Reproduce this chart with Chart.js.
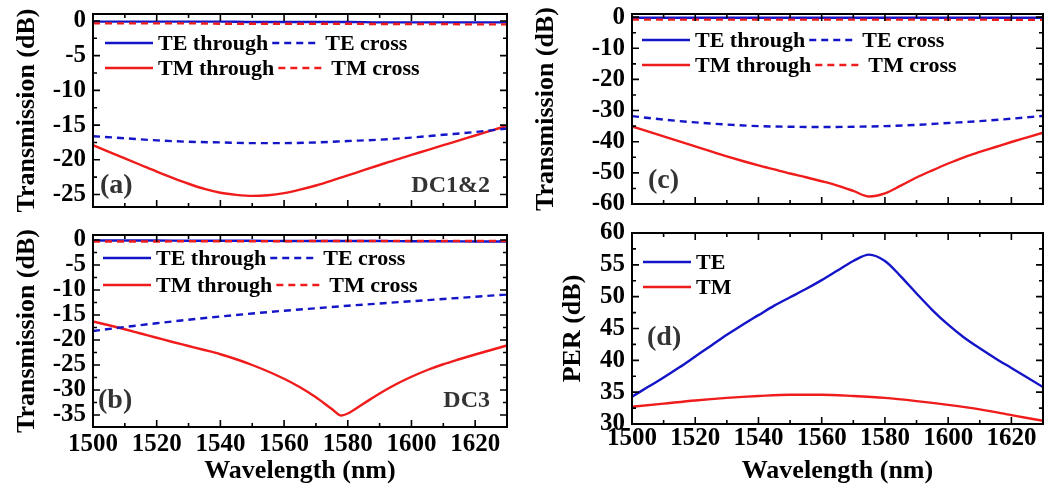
<!DOCTYPE html>
<html>
<head>
<meta charset="utf-8">
<script src="https://cdn.jsdelivr.net/npm/chart.js@4.4.1/dist/chart.umd.min.js"></script>
<style>
  body { margin: 0; background: #fff; }
  #wrap { position: relative; width: 1053px; height: 491px; overflow: hidden; background: #fff; }
  canvas { position: absolute; }
</style>
</head>
<body>
<div id="wrap">
  <canvas id="chartA" width="520" height="215" style="left:0;top:0"></canvas>
  <canvas id="chartB" width="520" height="276" style="left:0;top:215px"></canvas>
  <canvas id="chartC" width="523" height="215" style="left:530px;top:0"></canvas>
  <canvas id="chartD" width="523" height="276" style="left:530px;top:215px"></canvas>
</div>
<script>
// wavelength grids (nm)
const wl10 = [1500, 1510, 1520, 1530, 1540, 1550, 1560, 1570, 1580, 1590, 1600, 1610, 1620, 1630];
const wl5 = [1500, 1505, 1510, 1515, 1520, 1525, 1530, 1535, 1540, 1545, 1550, 1555, 1560, 1565,
  1570, 1575, 1580, 1585, 1590, 1595, 1600, 1605, 1610, 1615, 1620, 1625, 1630];
const wlDipB = [1500, 1505, 1510, 1515, 1520, 1525, 1530, 1535, 1540, 1545, 1550, 1555, 1560, 1565,
  1570, 1575, 1578, 1580, 1585, 1590, 1595, 1600, 1605, 1610, 1615, 1620, 1625, 1630];

// (a) DC1&2
const teThroughA = [-0.1, -0.1, -0.1, -0.1, -0.1, -0.15, -0.15, -0.15, -0.15, -0.2, -0.2, -0.2, -0.2, -0.2];
const teCrossA = [-16.6, -16.9, -17.2, -17.4, -17.5, -17.6, -17.6, -17.5, -17.3, -17.1, -16.8, -16.4, -16.0, -15.5];
const tmThroughA = [-17.9, -18.85, -19.8, -20.75, -21.7, -22.6, -23.45, -24.2, -24.75, -25.05, -25.2, -25.1, -24.8, -24.3,
  -23.7, -23.0, -22.25, -21.5, -20.75, -20.0, -19.3, -18.6, -17.9, -17.2, -16.5, -15.8, -15.1];
const tmCrossA = [-0.35, -0.35, -0.35, -0.35, -0.4, -0.4, -0.4, -0.4, -0.4, -0.45, -0.45, -0.45, -0.5, -0.5];

// (b) DC3
const teThroughB = [-0.1, -0.1, -0.1, -0.15, -0.15, -0.15, -0.2, -0.2, -0.2, -0.2, -0.25, -0.25, -0.3, -0.3];
const teCrossB = [-18.2, -17.4, -16.65, -15.95, -15.3, -14.7, -14.15, -13.65, -13.15, -12.7, -12.25, -11.8, -11.35, -10.9];
const tmThroughB = [-16.3, -17.05, -17.85, -18.7, -19.55, -20.4, -21.2, -22.0, -22.85, -23.85, -25.0, -26.3, -27.75, -29.45,
  -31.45, -33.8, -35.1, -34.7, -32.7, -30.7, -28.9, -27.35, -26.0, -24.85, -23.85, -22.9, -22.0, -21.1];
const tmCrossB = [-0.3, -0.3, -0.3, -0.25, -0.25, -0.25, -0.25, -0.2, -0.2, -0.2, -0.2, -0.2, -0.2, -0.2];

// (c) combined
const teThroughC = [-0.2, -0.2, -0.2, -0.2, -0.2, -0.2, -0.2, -0.2, -0.2, -0.2, -0.2, -0.2, -0.2, -0.2];
const teCrossC = [-31.8, -32.9, -33.8, -34.5, -35.0, -35.2, -35.3, -35.2, -35.0, -34.6, -34.0, -33.4, -32.6, -31.7];
const tmThroughC = [-35.1, -36.7, -38.3, -39.9, -41.5, -43.1, -44.7, -46.2, -47.6, -48.9, -50.2, -51.4, -52.7, -54.1,
  -55.8, -57.6, -56.6, -54.1, -51.5, -49.2, -47.0, -45.0, -43.3, -41.7, -40.1, -38.6, -37.1];
const tmCrossC = [-0.8, -0.8, -0.8, -0.8, -0.8, -0.8, -0.8, -0.8, -0.8, -0.8, -0.8, -0.8, -0.9, -0.9];

// (d) PER
const perTE = [34.3, 35.8, 37.3, 38.9, 40.6, 42.3, 44.0, 45.6, 47.1, 48.6, 49.9, 51.2, 52.6, 54.1,
  55.6, 56.6, 55.6, 53.2, 50.5, 47.9, 45.6, 43.6, 41.9, 40.3, 38.8, 37.3, 35.8];
const perTM = [32.7, 33.2, 33.7, 34.1, 34.4, 34.6, 34.6, 34.4, 34.1, 33.6, 33.0, 32.3, 31.4, 30.5];

// tick labels
const ticksX = [1500, 1520, 1540, 1560, 1580, 1600, 1620];
const ticksYA = [0, -5, -10, -15, -20, -25];
const ticksYB = [0, -5, -10, -15, -20, -25, -30, -35];
const ticksYC = [0, -10, -20, -30, -40, -50, -60];
const ticksYD = [30, 35, 40, 45, 50, 55, 60];

const blue = "#1414c8";
const red = "#f01c1c";
const serif = "'Liberation Serif', 'Times New Roman', serif";
Chart.defaults.font.family = serif;
Chart.defaults.font.weight = "bold";
Chart.defaults.color = "#000";

function zip(xs, ys) {
  return xs.map((x, i) => ({ x: x, y: ys[i] }));
}

function line(label, xs, ys, color, dashed, order) {
  return {
    label: label,
    data: zip(xs, ys),
    borderColor: color,
    backgroundColor: color,
    borderWidth: 2.4,
    borderDash: dashed ? [7, 5] : [],
    pointRadius: 0,
    cubicInterpolationMode: "monotone",
    fill: false,
    order: order
  };
}

function bold(size) {
  return { family: serif, size: size, weight: "bold" };
}

// frame, inward ticks, legend and panel notes
const framePlugin = {
  id: "frame",
  afterDatasetsDraw(chart, args, opts) {
    const { ctx, chartArea: a, scales } = chart;
    ctx.save();
    ctx.strokeStyle = "#000";
    ctx.lineWidth = 2;
    ctx.strokeRect(a.left, a.top, a.right - a.left, a.bottom - a.top);

    const marks = (scale, step) => {
      const out = [];
      scale.ticks.forEach(t => {
        out.push({ v: t.value, len: 7 });
        [t.value + step / 2, t.value - step / 2].forEach(m => {
          if (m > scale.min && m < scale.max && !out.some(o => Math.abs(o.v - m) < 1e-6)) out.push({ v: m, len: 4 });
        });
      });
      return out;
    };
    ctx.lineWidth = 1.6;
    ctx.beginPath();
    marks(scales.x, 20).forEach(m => {
      const px = scales.x.getPixelForValue(m.v);
      ctx.moveTo(px, a.bottom); ctx.lineTo(px, a.bottom - m.len);
      ctx.moveTo(px, a.top); ctx.lineTo(px, a.top + m.len);
    });
    marks(scales.y, opts.yStep).forEach(m => {
      const py = scales.y.getPixelForValue(m.v);
      ctx.moveTo(a.left, py); ctx.lineTo(a.left + m.len, py);
      ctx.moveTo(a.right, py); ctx.lineTo(a.right - m.len, py);
    });
    ctx.stroke();

    // legend
    ctx.font = "bold 22px " + serif;
    ctx.textBaseline = "middle";
    ctx.textAlign = "left";
    let y = opts.legendY;
    opts.rows.forEach(row => {
      let x = opts.legendX;
      row.forEach(i => {
        const ds = chart.data.datasets[i];
        ctx.strokeStyle = ds.borderColor;
        ctx.lineWidth = ds.borderWidth;
        ctx.setLineDash(ds.borderDash);
        ctx.beginPath();
        ctx.moveTo(x, y); ctx.lineTo(x + 48, y);
        ctx.stroke();
        ctx.setLineDash([]);
        x += 53;
        ctx.fillStyle = "#000";
        ctx.fillText(ds.label, x, y + 1);
        x += ctx.measureText(ds.label).width + 4;
      });
      y += opts.rowGap;
    });

    // panel tag and note
    ctx.fillStyle = "#333";
    ctx.font = "bold 28px " + serif;
    ctx.fillText(opts.tag, opts.tagX, opts.tagY);
    if (opts.note) {
      ctx.font = "bold 24px " + serif;
      ctx.textAlign = "right";
      ctx.fillText(opts.note, opts.noteX, opts.tagY);
    }
    ctx.restore();
  }
};

function makePanel(id, p) {
  new Chart(document.getElementById(id), {
    type: "line",
    data: { datasets: p.datasets },
    options: {
      responsive: false,
      animation: false,
      events: [],
      layout: { padding: { top: p.padTop, right: p.padRight, left: 0, bottom: 0 } },
      plugins: {
        legend: { display: false },
        tooltip: { enabled: false },
        frame: p.frame
      },
      scales: {
        x: {
          type: "linear",
          min: 1500,
          max: 1630,
          afterBuildTicks: s => { s.ticks = ticksX.map(v => ({ value: v })); },
          afterFit: s => { s.height = p.xHeight; s.paddingLeft = 0; s.paddingRight = 0; },
          grid: { display: false, drawTicks: false },
          border: { display: false },
          ticks: {
            display: p.xLabels,
            padding: p.xPad,
            maxRotation: 0,
            autoSkip: false,
            color: "#000",
            font: bold(25),
            callback: v => String(v)
          },
          title: {
            display: p.xLabels,
            text: "Wavelength (nm)",
            color: "#000",
            font: bold(26),
            padding: { top: 0, bottom: 4 }
          }
        },
        y: {
          type: "linear",
          min: p.yMin,
          max: p.yMax,
          afterBuildTicks: s => { s.ticks = p.yTicks.map(v => ({ value: v })); },
          afterFit: s => { s.width = p.yWidth; s.paddingTop = 0; s.paddingBottom = 0; },
          grid: { display: false, drawTicks: false },
          border: { display: false },
          ticks: {
            padding: 7,
            autoSkip: false,
            color: "#000",
            font: bold(25),
            callback: v => String(v)
          },
          title: {
            display: true,
            text: p.yTitle,
            color: "#000",
            font: bold(26),
            padding: { top: p.yTitlePad, bottom: 0 }
          }
        }
      }
    },
    plugins: [framePlugin]
  });
}

makePanel("chartA", {
  datasets: [
    line("TE through", wl10, teThroughA, blue, false, 1),
    line("TE cross", wl10, teCrossA, blue, true, 1),
    line("TM through", wl5, tmThroughA, red, false, 1),
    line("TM cross", wl10, tmCrossA, red, true, 0)
  ],
  padTop: 14, padRight: 13, yWidth: 93, xHeight: 8, xLabels: false, xPad: 3,
  yMin: -26.8, yMax: 1.0, yTicks: ticksYA, yTitle: "Transmission (dB)", yTitlePad: 12,
  frame: { yStep: 5, legendX: 105, legendY: 43, rowGap: 25, rows: [[0, 1], [2, 3]],
    tag: "(a)", tagX: 100, tagY: 186, note: "DC1&2", noteX: 490 }
});

makePanel("chartB", {
  datasets: [
    line("TE through", wl10, teThroughB, blue, false, 1),
    line("TE cross", wl10, teCrossB, blue, true, 1),
    line("TM through", wlDipB, tmThroughB, red, false, 1),
    line("TM cross", wl10, tmCrossB, red, true, 0)
  ],
  padTop: 20, padRight: 13, yWidth: 93, xHeight: 64, xLabels: true, xPad: 3,
  yMin: -37.4, yMax: 1.0, yTicks: ticksYB, yTitle: "Transmission (dB)", yTitlePad: 12,
  frame: { yStep: 5, legendX: 103, legendY: 43, rowGap: 27, rows: [[0, 1], [2, 3]],
    tag: "(b)", tagX: 98, tagY: 186, note: "DC3", noteX: 490 }
});

makePanel("chartC", {
  datasets: [
    line("TE through", wl10, teThroughC, blue, false, 1),
    line("TE cross", wl10, teCrossC, blue, true, 1),
    line("TM through", wl5, tmThroughC, red, false, 1),
    line("TM cross", wl10, tmCrossC, red, true, 0)
  ],
  padTop: 14, padRight: 10, yWidth: 102, xHeight: 11, xLabels: false, xPad: 3,
  yMin: -60, yMax: 1.0, yTicks: ticksYC, yTitle: "Transmission (dB)", yTitlePad: 1,
  frame: { yStep: 10, legendX: 112, legendY: 40, rowGap: 25, rows: [[0, 1], [2, 3]],
    tag: "(c)", tagX: 118, tagY: 181 }
});

makePanel("chartD", {
  datasets: [
    line("TE", wl5, perTE, blue, false, 1),
    line("TM", wl10, perTM, red, false, 1)
  ],
  padTop: 18, padRight: 10, yWidth: 102, xHeight: 67, xLabels: true, xPad: 0,
  yMin: 30, yMax: 60, yTicks: ticksYD, yTitle: "PER (dB)", yTitlePad: 28,
  frame: { yStep: 5, legendX: 113, legendY: 47, rowGap: 25, rows: [[0], [1]],
    tag: "(d)", tagX: 117, tagY: 123 }
});
</script>
</body>
</html>
